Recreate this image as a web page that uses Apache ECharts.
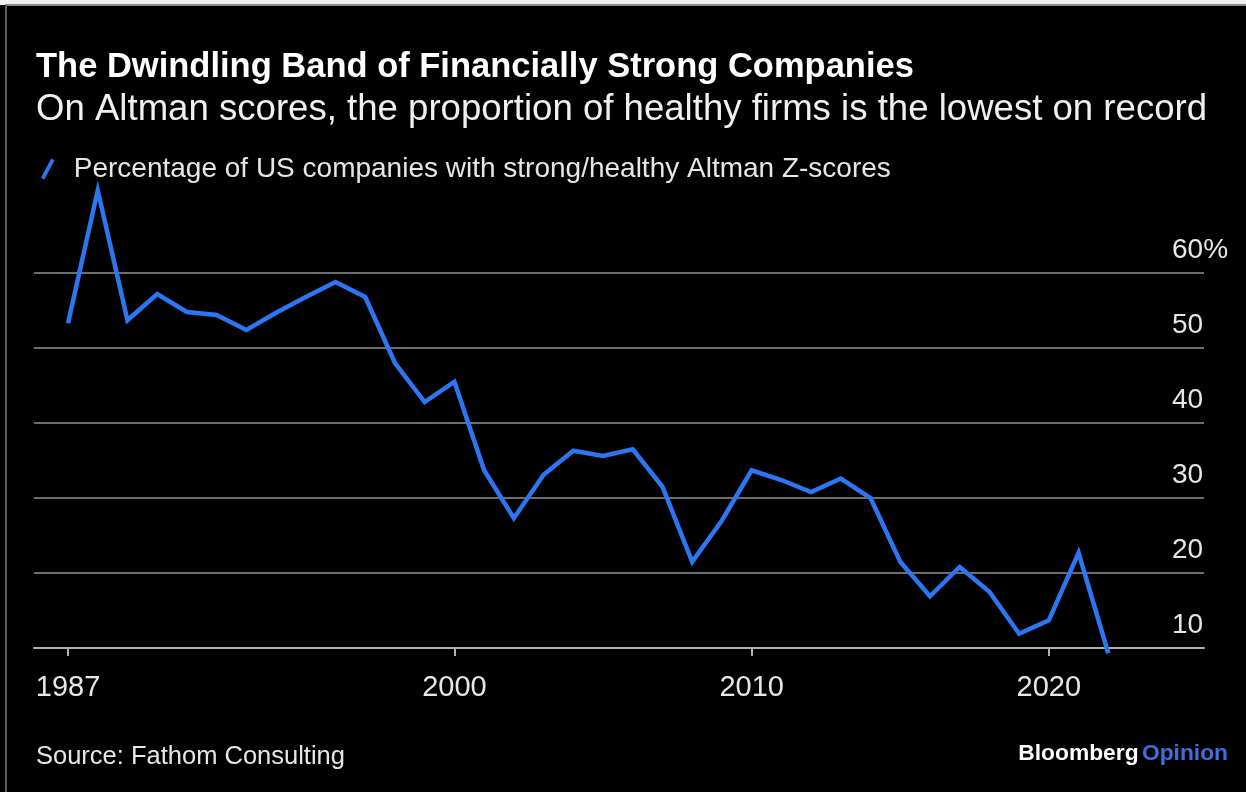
<!DOCTYPE html>
<html>
<head>
<meta charset="utf-8">
<title>The Dwindling Band of Financially Strong Companies</title>
<script src="https://cdn.jsdelivr.net/npm/echarts@6/dist/echarts.min.js"></script>
<style>
  html, body { margin: 0; padding: 0; background: #000; }
  #chart { width: 1246px; height: 792px; }
</style>
</head>
<body>
<div id="chart"></div>
<script>
// Share of US companies with strong/healthy Altman Z-scores, by year
const years = [1987, 1988, 1989, 1990, 1991, 1992, 1993, 1994, 1995, 1996,
  1997, 1998, 1999, 2000, 2001, 2002, 2003, 2004, 2005, 2006,
  2007, 2008, 2009, 2010, 2011, 2012, 2013, 2014, 2015, 2016,
  2017, 2018, 2019, 2020, 2021, 2022];
const healthyShare = [53.3, 71.0, 53.7, 57.2, 54.8, 54.4, 52.4, 54.7, 56.8, 58.8,
  56.8, 48.0, 42.8, 45.5, 33.7, 27.3, 33.1, 36.3, 35.6, 36.5,
  31.5, 21.5, 27.0, 33.7, 32.4, 30.8, 32.6, 30.0, 21.5, 16.9,
  20.8, 17.5, 11.9, 13.7, 22.7, 9.3];
const yearTicks = [1987, 2000, 2010, 2020];
const yTicks = [10, 20, 30, 40, 50, 60];

const seriesName = 'Percentage of US companies with strong/healthy Altman Z-scores';
const FONT = '"Liberation Sans", Arial, Helvetica, sans-serif';
const BLUE = '#2b76f2';

const chart = echarts.init(document.getElementById('chart'), null, { renderer: 'canvas' });

chart.setOption({
  backgroundColor: '#000',
  animation: false,
  textStyle: { fontFamily: FONT },
  grid: { left: 34, right: 42, top: 273, bottom: 144, containLabel: false },
  legend: {
    left: 36, top: 150,
    itemWidth: 14, itemHeight: 21,
    icon: 'path://M0,17 L9,0 L12,1.6 L3,18.6 Z',
    textStyle: { color: '#e6e6e6', fontSize: 28, fontFamily: FONT, padding: [0, 0, 0, 14] },
    data: [{ name: seriesName, itemStyle: { color: BLUE } }],
    selectedMode: false
  },
  xAxis: {
    type: 'value',
    min: 1985.855,
    max: 2025.22,
    axisLine: { show: true, onZero: false, lineStyle: { color: '#b0b0b0', width: 2 } },
    axisTick: { show: true, customValues: yearTicks, length: 8, lineStyle: { color: '#b0b0b0', width: 2 } },
    axisLabel: {
      customValues: yearTicks, color: '#e6e6e6', fontSize: 29, margin: 25,
      fontFamily: FONT, formatter: v => String(v)
    },
    splitLine: { show: false }
  },
  yAxis: {
    type: 'value',
    position: 'right',
    min: yTicks[0],
    max: yTicks[yTicks.length - 1],
    interval: 10,
    axisLine: { show: false },
    axisTick: { show: false },
    axisLabel: {
      margin: -32, align: 'left', verticalAlign: 'bottom',
      color: '#e6e6e6', fontSize: 28, fontFamily: FONT,
      padding: [0, 0, 9, 0],
      formatter: v => (v === 60 ? v + '%' : String(v))
    },
    splitLine: { show: true, lineStyle: { color: '#6c6c6c', width: 2 } }
  },
  series: [{
    name: seriesName,
    type: 'line',
    data: years.map((y, i) => [y, healthyShare[i]]),
    clip: false,
    symbol: 'none',
    lineStyle: { color: BLUE, width: 4.5, join: 'miter' },
    itemStyle: { color: BLUE },
    z: 5
  }],
  graphic: [
    // page frame: light strip at the very top and thin grey border
    { type: 'rect', shape: { x: 0, y: 0, width: 1246, height: 5 }, style: { fill: '#f0f0f0' }, silent: true },
    { type: 'rect', shape: { x: 5, y: 4, width: 1241, height: 2 }, style: { fill: '#8a8a8a' }, silent: true },
    { type: 'rect', shape: { x: 5, y: 5, width: 2, height: 787 }, style: { fill: '#5a5a5a' }, silent: true },
    {
      type: 'text', left: 36, top: 50,
      style: {
        text: 'The Dwindling Band of Financially Strong Companies',
        fill: '#ffffff', font: 'bold 34.5px ' + FONT
      }
    },
    {
      type: 'text', left: 36, top: 91,
      style: {
        text: 'On Altman scores, the proportion of healthy firms is the lowest on record',
        fill: '#f0f0f0', font: '36.6px ' + FONT
      }
    },
    {
      type: 'text', left: 36, top: 744,
      style: { text: 'Source: Fathom Consulting', fill: '#e6e6e6', font: '25.5px ' + FONT }
    },
    {
      type: 'text', right: 18, top: 742,
      style: {
        text: '{b|Bloomberg} {o|Opinion}',
        rich: {
          b: { fill: '#ffffff', font: 'bold 22.8px ' + FONT },
          o: { fill: '#3d70dc', font: 'bold 22.8px ' + FONT }
        }
      }
    }
  ]
});
</script>
</body>
</html>
